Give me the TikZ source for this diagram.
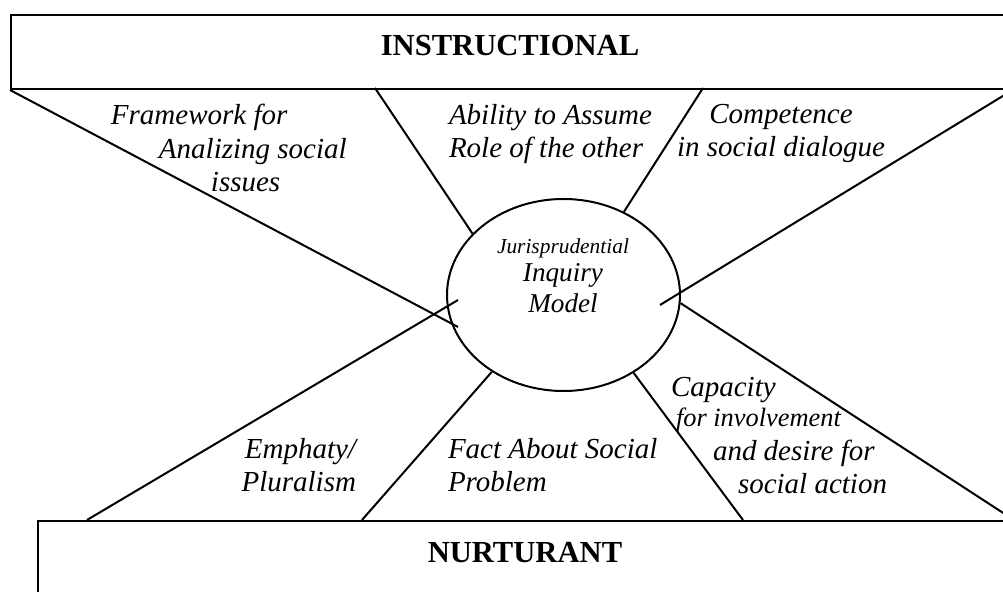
\documentclass[tikz,border=0pt]{standalone}
\usepackage{fontspec}
\setmainfont{Liberation Serif}
\usetikzlibrary{shapes.geometric,positioning}

\begin{document}
\begin{tikzpicture}[x=0.5pt,y=-0.5pt,line width=1pt,
  band/.style={draw,rectangle,anchor=north west,inner sep=0pt},
  title/.style={anchor=base,inner sep=0pt,font=\fontsize{15.3}{18}\selectfont\bfseries},
  lbl/.style={inner sep=0pt,font=\fontsize{14.5}{16.9}\selectfont\itshape},
  core/.style={draw,ellipse,minimum width=116.5pt,minimum height=96pt,inner sep=0pt}
]
  \useasboundingbox (0,0) rectangle (1003,592);
  \clip (0,0) rectangle (1003,592);

  % the two bands and the model in the middle
  \node[band,minimum width=505pt,minimum height=37pt] (instr) at (10,14) {};
  \node[band,minimum width=492pt,minimum height=45pt] (nurt) at (37,520) {};
  \node[core] (jim) at (563.5,295) {};

  \node[title] (instrt) at (510,56) {INSTRUCTIONAL};
  \node[title] (nurtt) at (525,563) {NURTURANT};

  % multi-line labels sit on the baseline of their last line
  \node[lbl,anchor=base,align=center] (jimt) at (563,313)
    {{\fontsize{10.7}{12}\selectfont Jurisprudential}\\[-3pt]
     {\fontsize{13.6}{15}\selectfont Inquiry}\\[-1pt]
     {\fontsize{13.6}{15}\selectfont Model}};

  % end points of the spokes
  \coordinate (t1) at (375,88);
  \coordinate (t2) at (703,88);
  \coordinate (t3) at (1016,88);
  \coordinate (b1) at (87,520);
  \coordinate (b2) at (362,520);
  \coordinate (b3) at (743,520);
  \coordinate (b4) at (1014,520);
  \coordinate (in1) at (458,327);
  \coordinate (in2) at (458,300);
  \coordinate (in3) at (660,305);

  \draw (instr.south west) -- (in1);
  \draw (t1) -- (jim.146);
  \draw (t2) -- (jim.54);
  \draw (t3) -- (in3);
  \draw (b1) -- (in2);
  \draw (b2) -- (jim.227.5);
  \draw (b3) -- (jim.312.5);
  \draw (jim.356.6) -- (b4);

  % labels between the spokes
  \node[lbl,anchor=base west,align=left] (frame) at (110,192)
    {Framework for\\
     \hspace*{24pt}Analizing social\\
     \hspace*{50pt}issues};
  \node[lbl,anchor=base west,align=left] (role) at (448,158)
    {Ability to Assume\\
     Role of the other};
  \node[lbl,anchor=base,align=center] (dial) at (781,157)
    {Competence\\
     in social dialogue};
  \node[lbl,anchor=base east,align=right] (emp) at (357,492)
    {Emphaty/\\
     Pluralism};
  \node[lbl,anchor=base west,align=left] (fact) at (447,492)
    {Fact About Social\\
     Problem};
  \node[lbl,anchor=base west,align=left] (cap) at (670,494)
    {Capacity\\[-2pt]
     \hspace*{2.5pt}{\fontsize{13.2}{15}\selectfont for involvement}\\
     \hspace*{21pt}and desire for\\
     \hspace*{33.5pt}social action};
\end{tikzpicture}
\end{document}
